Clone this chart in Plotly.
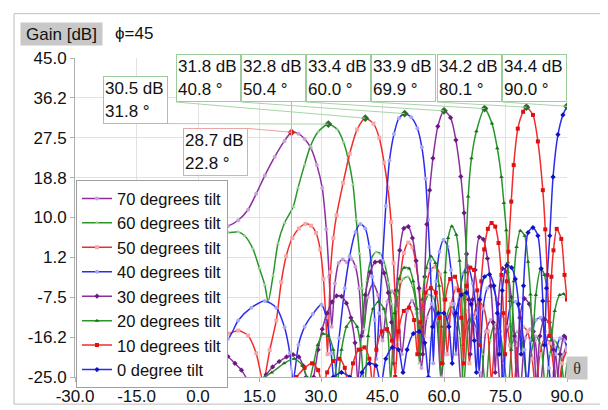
import plotly.graph_objects as go

# ---------------- data ----------------
names = ['70 degrees tilt', '60 degrees tilt', '50 degrees tilt', '40 degrees tilt',
         '30 degrees tilt', '20 degrees tilt', '10 degrees tilt', '0 degree tilt']

th70 = [0, 2.5, 5, 7.3, 9.8, 12.2, 14.2, 16.3, 18.7, 21.1, 22.8, 24.5, 26.0, 27.5, 29.0, 30.3, 31.3, 32.0, 32.6,
        33.4, 34.3, 35.3, 36.3, 37.4, 38.4, 39.3, 40.2, 41.4, 42.7, 43.9, 45.0, 46.2, 47.4, 48.6, 49.7, 51.0, 52.2,
        53.4, 54.5, 55.8, 57.0, 58.2, 59.3, 60.6, 61.8, 63.0, 64.2, 65.4, 66.6, 67.8, 69.0, 70.2, 71.4, 72.6, 73.8,
        75.0, 76.2, 77.4, 78.6, 79.8, 81.0, 82.2, 83.4, 84.6, 85.8, 87.0, 88.2, 89.2, 90]
g70 = [7.4, 7.5, 7.7, 8.1, 9.4, 11.7, 15.2, 19.2, 23.3, 26.8, 28.7, 28.4, 27.2, 25.3, 21.5, 16.5, 7.4, -3.0, -14.0,
       -4.5, 0.0, 0.8, 0.2, 0.9, -0.8, -5.5, -16.0, -7.5, -4.5, -7.0, -17.0, -8.5, -6.2, -8.8, -20.0, -10.5, -8.2,
       -11.0, -23.0, -12.0, -9.5, -12.5, -26.0, -13.5, -10.5, -13.5, -27.0, -14.0, -11.5, -14.5, -27.0, -15.0, -12.5,
       -15.5, -28.0, -16.0, -13.5, -16.5, -28.0, -16.5, -14.5, -17.0, -28.0, -18.0, -15.5, -18.5, -28.0, -20.0, -17.9]

th60 = [0, 2.5, 5, 7.3, 9.8, 11.4, 13.4, 15.0, 16.3, 17.1, 18.3, 19.5, 21.1, 23.2, 24.4, 26.0, 27.4, 29.3, 31.8,
        34.0, 35.5, 36.6, 37.8, 38.6, 39.4, 40.0, 40.5, 41.2, 42.2, 43.4, 44.6, 45.6, 46.5, 47.2, 47.8, 48.8, 50.0,
        51.2, 52.3, 53.3, 54.0, 55.0, 56.2, 57.4, 58.5, 59.3, 60.4, 61.6, 62.8, 63.9, 64.8, 65.8, 67.0, 68.2, 69.3,
        70.2, 71.2, 72.4, 73.6, 74.7, 75.6, 76.6, 77.8, 79.0, 80.2, 81.2, 82.4, 83.6, 84.8, 85.8, 87.0, 88.2, 89.3, 90]
g60 = [6.6, 7.0, 7.2, 6.7, 6.8, 6.0, 3.1, -1.2, -4.8, -8.5, -2.8, 4.3, 8.8, 12.3, 16.5, 21.6, 25.6, 28.8, 30.5,
       29.3, 26.5, 23.0, 17.2, 9.5, 2.0, -5.5, -14.5, -4.0, 0.8, 2.4, 2.0, -0.5, -4.5, -9.0, -18.0, -7.0, -3.5,
       -3.0, -5.0, -10.0, -22.0, -10.0, -7.0, -7.5, -12.0, -25.0, -13.0, -9.5, -10.5, -16.0, -27.0, -15.0, -11.5,
       -13.0, -20.0, -28.0, -17.0, -13.5, -15.0, -22.0, -28.0, -18.0, -15.0, -17.0, -26.0, -20.0, -16.0, -18.0,
       -28.0, -20.0, -17.0, -19.0, -26.0, -22.0]

th50 = [0, 2.5, 5, 7.3, 9.8, 12.2, 14.2, 15.9, 17.5, 19.1, 20.3, 21.5, 23.0, 24.6, 26.2, 27.6, 28.8, 29.8, 30.6,
        31.2, 31.6, 32.3, 33.0, 33.8, 35.4, 37.0, 38.8, 40.8, 42.8, 44.2, 45.4, 46.3, 47.1, 47.7, 48.2, 48.6, 49.3,
        50.2, 51.3, 52.3, 53.2, 54.0, 54.8, 55.6, 56.7, 57.9, 59.0, 60.0, 60.8, 61.8, 63.0, 64.2, 65.3, 66.2, 67.2,
        68.4, 69.6, 70.7, 71.6, 72.6, 73.8, 75.0, 76.1, 77.0, 78.0, 79.2, 80.4, 81.5, 82.4, 83.4, 84.6, 85.8, 86.9,
        87.8, 88.8, 90]
g50 = [-14.5, -14.2, -14.8, -15.5, -14.8, -15.9, -19.8, -26.0, -19.1, -12.6, -4.2, 1.5, 5.5, 7.6, 8.6, 8.2, 6.6,
       3.0, -3.5, -12.5, -20.0, -2.0, 5.5, 10.5, 17.6, 24.0, 29.3, 31.8, 30.6, 27.5, 22.0, 16.5, 9.0, 0.0, -10.0,
       -18.0, -4.0, 2.2, 4.5, 3.5, -0.5, -6.0, -16.0, -6.0, -1.5, -0.8, -2.5, -8.0, -20.0, -9.0, -5.5, -6.0, -10.5,
       -22.0, -12.0, -8.5, -9.5, -15.0, -26.0, -15.0, -11.5, -12.5, -18.0, -28.0, -18.0, -14.0, -15.0, -21.0, -28.0,
       -20.0, -16.5, -17.5, -24.0, -28.0, -22.0, -19.0]

th40 = [0, 2.5, 5, 7.3, 9.8, 13.0, 16.3, 19.1, 21.1, 22.4, 23.2, 24.5, 26.0, 28.0, 30.1, 31.3, 32.5, 33.2, 34.4,
        35.8, 37.0, 38.4, 39.6, 40.8, 41.8, 42.5, 43.1, 43.5, 44.2, 45.0, 45.8, 46.7, 47.8, 49.0, 50.4, 52.0, 53.5,
        54.6, 55.5, 56.1, 56.6, 57.0, 57.4, 58.1, 58.9, 59.9, 60.9, 61.7, 62.4, 62.9, 63.7, 64.7, 65.8, 67.0, 67.9,
        68.6, 69.5, 70.6, 71.7, 72.8, 73.7, 74.4, 75.3, 76.4, 77.5, 78.6, 79.6, 80.3, 81.2, 82.4, 83.5, 84.6, 85.6,
        86.3, 87.2, 88.3, 89.3, 90]
g40 = [-12.5, -13.5, -15.0, -16.6, -12.6, -9.8, -8.3, -9.8, -14.1, -19.8, -26.0, -18.0, -14.0, -11.2, -9.1, -11.9,
       -19.8, -26.0, -16.5, -5.5, 1.5, 6.8, 8.6, 7.6, 3.5, -3.0, -12.5, -21.0, -11.0, 0.5, 12.5, 22.5, 28.3, 31.8,
       32.8, 32.0, 29.6, 25.4, 18.5, 9.5, 0.5, -9.0, -22.0, -4.0, 2.5, 5.1, 3.6, -1.5, -9.0, -20.0, -8.0, -2.3, -0.6,
       -4.5, -11.0, -24.0, -10.0, -5.5, -5.0, -8.0, -15.0, -27.0, -14.0, -9.0, -8.5, -11.5, -19.0, -28.0, -17.0,
       -12.5, -12.0, -15.0, -23.0, -28.0, -20.0, -16.5, -17.0, -18.5]

th30 = [0, 2.5, 5, 7.3, 9.0, 10.6, 12.3, 13.8, 15.2, 16.6, 18.2, 19.8, 21.6, 23.2, 24.6, 25.6, 26.4, 27.3, 28.2,
        29.3, 30.3, 31.5, 32.7, 33.8, 35.0, 36.2, 37.3, 38.3, 39.0, 39.8, 40.8, 42.0, 43.2, 44.4, 45.4, 46.4, 47.2,
        47.7, 48.4, 49.2, 50.2, 51.3, 52.3, 53.2, 53.9, 54.4, 54.8, 55.3, 55.8, 56.5, 57.3, 58.5, 60.0, 61.6, 62.9,
        64.1, 64.9, 65.5, 66.0, 66.4, 67.0, 67.6, 68.6, 69.6, 70.6, 71.4, 72.0, 72.5, 73.2, 74.3, 75.4, 76.4, 77.2,
        77.7, 78.5, 79.6, 80.8, 81.8, 82.5, 83.4, 84.5, 85.7, 86.7, 87.4, 88.3, 89.3, 90]
g30 = [-17.0, -17.5, -19.0, -20.5, -22.0, -23.5, -26.0, -28.0, -26.0, -24.5, -22.8, -21.6, -20.6, -20.1, -20.6,
       -22.5, -25.0, -28.0, -25.0, -19.0, -14.5, -11.0, -8.5, -7.2, -7.3, -8.8, -12.0, -17.5, -26.0, -16.0, -7.0,
       -2.0, 0.2, 0.3, -2.2, -6.5, -13.0, -22.0, -6.0, 2.8, 7.6, 8.0, 5.5, 0.5, -5.5, -14.0, -20.0, -3.0, 8.5, 16.0,
       23.0, 30.0, 33.4, 31.9, 27.0, 19.0, 11.0, 2.0, -8.0, -20.0, -8.0, -1.5, 5.7, 5.2, 1.0, -5.0, -13.0, -24.0,
       -9.0, -1.2, -2.0, -7.5, -16.0, -26.0, -12.0, -7.8, -9.0, -15.0, -27.0, -16.0, -12.3, -13.0, -19.0, -28.0,
       -20.0, -16.0, -16.5]

th20 = [0, 5, 10, 14, 18, 21, 23.5, 25.5, 27.0, 28.2, 29.2, 30.5, 31.8, 33.0, 34.0, 35.0, 36.2, 37.5, 38.8, 39.8,
        40.6, 41.5, 42.7, 44.0, 45.3, 46.3, 47.0, 47.9, 49.0, 50.3, 51.5, 52.5, 53.4, 54.0, 54.7, 55.7, 56.8, 57.9,
        58.8, 59.4, 59.8, 60.3, 61.0, 61.9, 63.0, 63.8, 64.3, 64.7, 65.2, 65.9, 66.7, 67.9, 69.9, 71.7, 73.0, 74.0,
        74.6, 75.2, 75.6, 76.0, 76.4, 77.0, 77.7, 78.6, 79.7, 80.5, 81.1, 81.6, 82.4, 83.6, 84.5, 85.4, 86.1, 87.0,
        88.2, 89.2, 90]
g20 = [-28.0, -27.0, -26.0, -26.0, -24.0, -22.0, -21.0, -22.5, -26.0, -22.0, -18.0, -15.5, -16.0, -19.0, -26.0,
       -19.0, -14.0, -12.5, -14.0, -19.0, -28.0, -16.0, -10.0, -8.5, -10.0, -15.0, -26.0, -11.0, -3.5, -1.0, -1.2,
       -4.0, -10.0, -20.0, -8.0, -1.0, 1.5, 0.0, -5.0, -14.0, -22.0, -2.0, 5.5, 8.1, 6.2, 0.5, -7.0, -18.0, -2.0,
       14.6, 23.0, 28.9, 33.9, 30.6, 25.2, 18.9, 13.2, 7.2, 0.2, -8.3, -19.0, -4.0, 3.5, 7.1, 6.0, 0.3, -6.9, -17.0,
       -7.0, -1.2, -2.6, -8.3, -17.0, -10.5, -7.0, -6.8, -7.8]

th10 = [0, 10, 20, 24, 26, 27.8, 29.3, 30.4, 31.5, 33.0, 34.5, 35.8, 36.8, 37.8, 39.2, 40.6, 41.8, 42.6, 43.5,
        44.8, 46.1, 47.3, 48.1, 48.9, 50.2, 51.5, 52.7, 53.5, 54.2, 55.5, 56.8, 58.0, 58.9, 59.5, 60.3, 61.5, 62.7,
        63.6, 64.2, 64.8, 65.5, 66.4, 67.3, 68.1, 68.6, 69.1, 69.8, 70.7, 71.6, 72.5, 73.3, 74.0, 74.5, 74.9, 75.3,
        75.7, 76.4, 77.0, 78.0, 79.3, 80.1, 81.7, 82.9, 84.1, 84.7, 85.2, 85.7, 86.2, 86.7, 87.5, 88.6, 89.4, 90]
g10 = [-30.0, -30.0, -28.0, -25.0, -23.0, -22.0, -23.5, -27.0, -24.0, -21.5, -21.0, -23.0, -28.0, -22.0, -19.0,
       -18.5, -21.0, -27.0, -19.0, -15.0, -14.5, -17.0, -25.0, -15.0, -10.5, -9.8, -12.5, -20.0, -13.0, -6.5, -5.5,
       -6.5, -12.0, -22.0, -8.0, -3.5, -3.0, -6.0, -12.0, -22.0, -5.0, -1.0, -1.5, -6.0, -18.0, -4.0, 3.0, 7.5, 8.8,
       8.0, 4.4, -2.6, -11.0, -20.0, -4.0, 2.5, 13.5, 21.5, 29.5, 33.2, 34.2, 32.5, 26.7, 16.0, 7.4, -2.6, -16.0,
       -3.0, 2.8, 7.5, 5.3, -2.6, -8.0]

th0 = [0, 20, 30, 33, 35, 37, 38.5, 40, 41.8, 43.4, 44.6, 45.8, 47.4, 48.9, 50.0, 51.0, 52.5, 54.0, 55.3, 56.2,
       57.2, 58.6, 60.0, 61.2, 62.0, 62.9, 64.2, 65.5, 66.6, 67.4, 67.9, 68.7, 69.9, 71.1, 72.2, 73.0, 73.5, 74.2,
       75.3, 76.5, 77.4, 78.2, 78.8, 79.4, 80.5, 81.7, 82.9, 83.7, 84.1, 84.5, 85.0, 85.8, 86.6, 87.8, 89.0, 90]
g0 = [-32.0, -30.0, -27.0, -25.0, -24.0, -25.0, -28.0, -24.0, -22.0, -22.5, -27.0, -21.0, -18.5, -19.0, -24.0,
      -19.0, -15.5, -15.0, -17.5, -25.0, -14.0, -11.0, -11.0, -14.0, -22.0, -11.0, -7.0, -6.5, -9.0, -17.0, -24.0,
      -8.0, -3.0, -2.5, -5.0, -11.0, -20.0, -6.0, -0.5, -1.0, -3.5, -9.0, -20.0, -5.0, 6.7, 7.8, 6.0, -1.2, -8.3,
      -18.0, -5.5, 6.0, 18.9, 28.2, 32.5, 34.4]

peak_theta = [22.8, 31.8, 40.8, 50.4, 60.0, 69.9, 80.1, 90.0]
peak_gain = [28.7, 30.5, 31.8, 32.8, 33.4, 33.9, 34.2, 34.4]

x_ticks = [-30, -15, 0, 15, 30, 45, 60, 75, 90]
x_labels = ['-30.0', '-15.0', '0.0', '15.0', '30.0', '45.0', '60.0', '75.0', '90.0']
y_ticks = [45.0, 36.25, 27.5, 18.75, 10.0, 1.25, -7.5, -16.25, -25.0]
y_labels = ['45.0', '36.2', '27.5', '18.8', '10.0', '1.2', '-7.5', '-16.2', '-25.0']

# ---------------- styling ----------------
purple, green, red, blue = '#8b2f9e', '#2a962a', '#f22c2c', '#2b2bf0'
series = [
    (th70, g70, purple, '#c9a3d6', 'circle'),
    (th60, g60, green, '#9fd29f', 'triangle-up'),
    (th50, g50, red, '#f4a8a8', 'square'),
    (th40, g40, blue, '#a8a8f4', 'circle'),
    (th30, g30, purple, '#6a1a80', 'diamond'),
    (th20, g20, green, '#1d6e1d', 'triangle-up'),
    (th10, g10, red, '#e01010', 'square'),
    (th0, g0, blue, '#1010c0', 'diamond'),
]

FONT = 'Liberation Sans, Arial, sans-serif'

fig = go.Figure()
for name, (tx, gy, col, mcol, sym) in zip(names, series):
    fig.add_trace(go.Scatter(x=tx, y=gy, name=name, mode='lines+markers',
                             line=dict(color=col, width=1.5, shape='spline', smoothing=0.7),
                             marker=dict(color=mcol, size=4, symbol=sym)))

# peak markers
fig.add_trace(go.Scatter(x=peak_theta, y=peak_gain, mode='markers', showlegend=False,
                         marker=dict(color=['#d02020'] + ['#2d6b2d'] * 7, size=6, symbol='diamond')))

# cursor line through the first peak
fig.add_shape(type='line', x0=peak_theta[0], x1=peak_theta[0], y0=35.5, y1=-25,
              xref='x', yref='y', line=dict(color='#f0a0a0', width=1))

# peak labels: leader tail (axis units) and which box corner sits on it
tails = [(-7.32, 30.61, 'right', 'bottom'), (-5.37, 35.34, 'left', 'bottom'), (10.49, 35.34, 'left', 'bottom'),
         (26.34, 35.34, 'left', 'bottom'), (42.2, 35.34, 'left', 'bottom'), (58.29, 35.34, 'left', 'bottom'),
         (74.15, 35.34, 'left', 'bottom')]
for i in range(1, 8):
    tx, ty, xa, ya = tails[i - 1]
    fig.add_annotation(x=peak_theta[i], y=peak_gain[i], ax=tx, ay=ty, axref='x', ayref='y',
                       text='%.1f dB<br>%.1f °' % (peak_gain[i], peak_theta[i]),
                       showarrow=True, arrowhead=0, arrowwidth=1, arrowcolor='#a8d4a8',
                       xanchor=xa, yanchor=ya, align='left', width=61, height=44,
                       bgcolor='white', bordercolor='#9ccc9c', borderwidth=1, borderpad=1,
                       font=dict(size=17, color='#111', family=FONT))
fig.add_annotation(x=peak_theta[0], y=peak_gain[0], ax=12.2, ay=29.54, axref='x', ayref='y',
                   text='%.1f dB<br>%.1f °' % (peak_gain[0], peak_theta[0]),
                   showarrow=True, arrowhead=0, arrowwidth=1, arrowcolor='#f0a0a0',
                   xanchor='right', yanchor='top', align='left', width=61, height=44,
                   bgcolor='white', bordercolor='#e8a8a8', borderwidth=1, borderpad=1,
                   font=dict(size=17, color='#111', family=FONT))

# header labels
fig.add_annotation(xref='paper', yref='paper', x=-0.1118, y=1.1135, xanchor='left', yanchor='top',
                   text='Gain [dB]', showarrow=False, bgcolor='#c8c8c8', width=79, height=20, borderpad=1,
                   font=dict(size=17, color='#111', family=FONT))
fig.add_annotation(xref='paper', yref='paper', x=0.077, y=1.077, xanchor='left', yanchor='middle',
                   text='ϕ=45', showarrow=False, font=dict(size=17, color='#111', family=FONT))
fig.add_annotation(xref='paper', yref='paper', x=0.998, y=0.0644, xanchor='left', yanchor='top',
                   text='θ', showarrow=False, bgcolor='#c8c8c8', width=18, height=20, borderpad=1,
                   font=dict(size=16, color='#333', family='Liberation Serif, serif'))

# outer frame round the whole picture
fig.add_shape(type='rect', xref='paper', yref='paper', x0=-0.124, x1=1.08, y0=-0.085, y1=1.139,
              line=dict(color='#bdbdbd', width=1), layer='above')

fig.update_layout(
    width=608, height=410,
    margin=dict(l=67, r=49, t=50, b=34),
    paper_bgcolor='white', plot_bgcolor='white',
    font=dict(family=FONT, size=17, color='#111'),
    showlegend=True,
    legend=dict(x=0.002, y=0.617, xanchor='left', yanchor='top', bgcolor='white',
                bordercolor='#a0a0a0', borderwidth=1, font=dict(size=16.5, family=FONT), itemwidth=30),
    xaxis=dict(range=[-30, 90], tickvals=x_ticks, ticktext=x_labels, showgrid=True, gridcolor='#e2e2e2',
               zeroline=False, showline=True, linecolor='#b0b0b0', ticks='outside', ticklen=4,
               tickcolor='#b0b0b0', tickfont=dict(size=17)),
    yaxis=dict(range=[-25, 45], tickvals=y_ticks, ticktext=y_labels, showgrid=True, gridcolor='#e2e2e2',
               zeroline=False, showline=True, linecolor='#b0b0b0', ticks='outside', ticklen=4,
               tickcolor='#b0b0b0', tickfont=dict(size=17)),
)

fig.write_html('out.html')
